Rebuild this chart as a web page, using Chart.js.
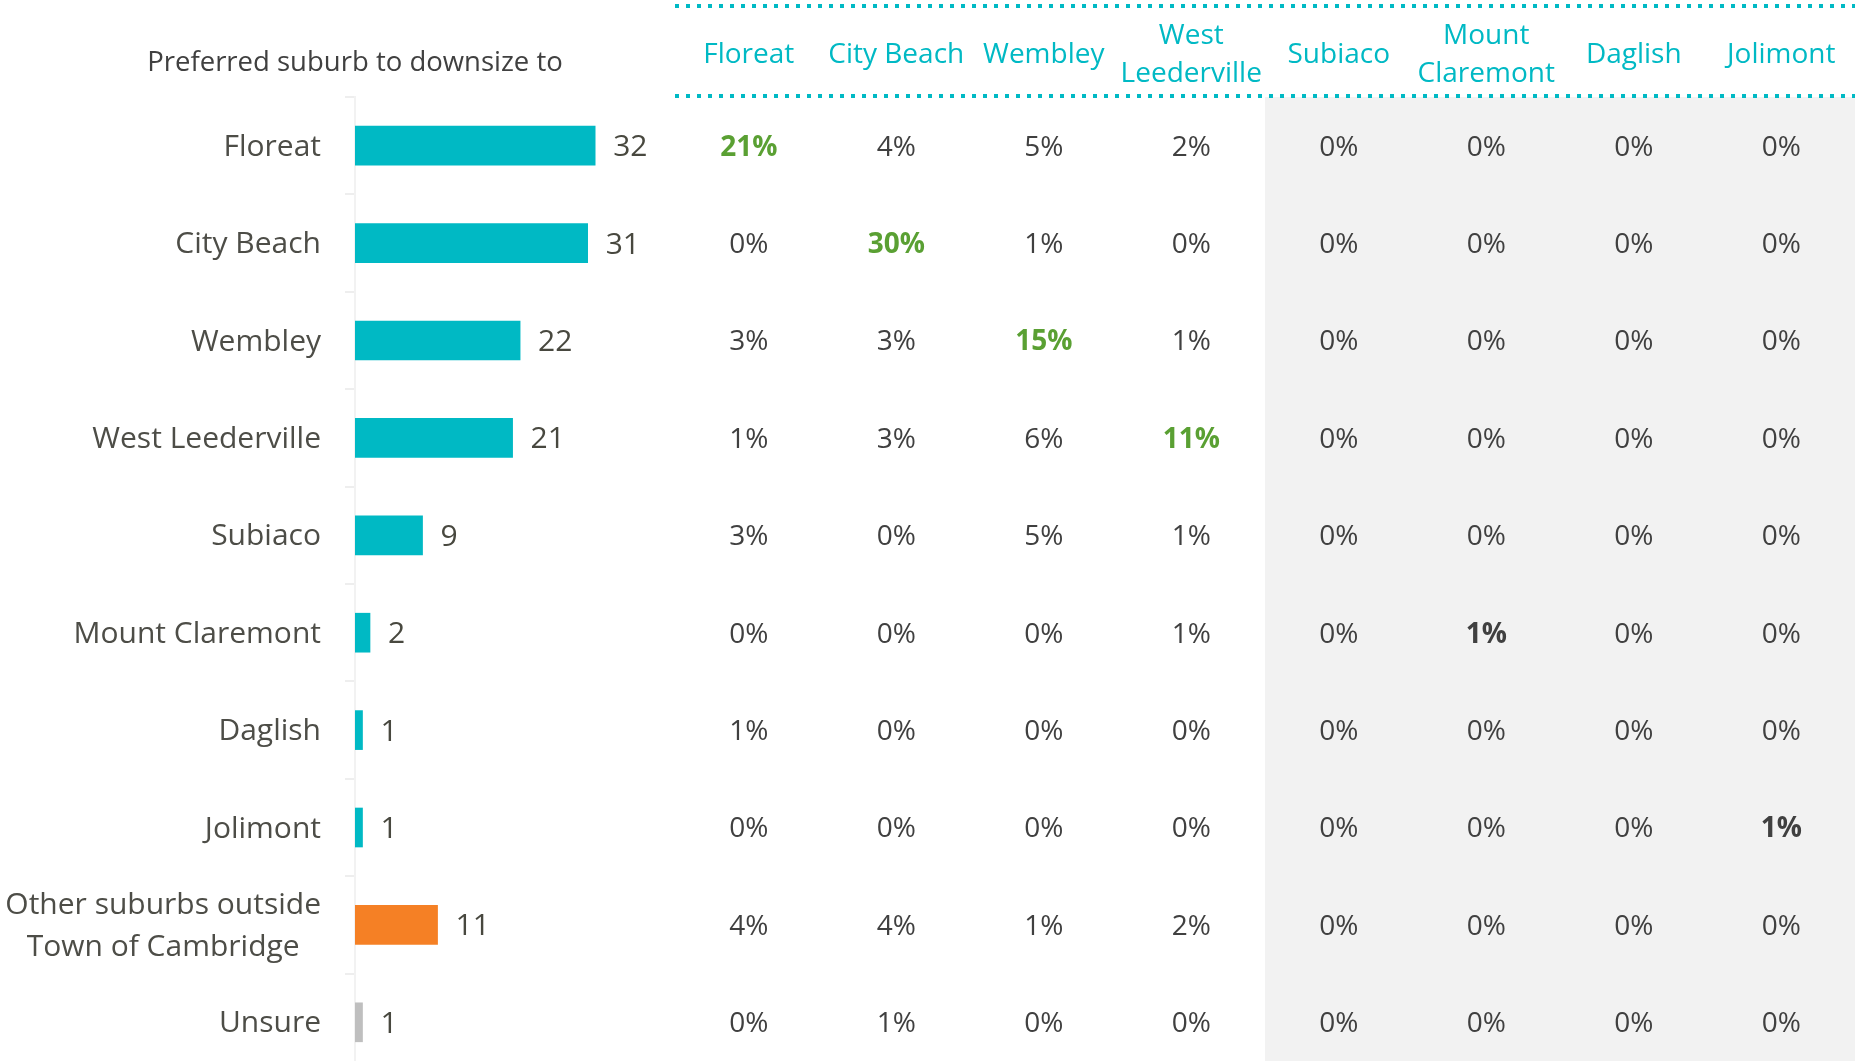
<!DOCTYPE html>
<html>
<head>
<meta charset="utf-8">
<script src="https://cdn.jsdelivr.net/npm/chart.js@4.4.1/dist/chart.umd.min.js"></script>
<style>
  html, body { margin: 0; padding: 0; background: #fff; overflow: hidden; }
  #wrap { position: relative; width: 1855px; height: 1061px; overflow: hidden; }
  #barChart { position: absolute; left: 0; top: 0; }
  #tableChart { position: absolute; left: 675px; top: 0; }
</style>
</head>
<body>
<div id="wrap">
  <canvas id="barChart" width="765" height="1075"></canvas>
  <canvas id="tableChart" width="1180" height="1075"></canvas>
</div>
<script>
// preferred suburb (rows)
const suburbs = [
  'Floreat', 'City Beach', 'Wembley', 'West Leederville', 'Subiaco',
  'Mount Claremont', 'Daglish', 'Jolimont',
  ['Other suburbs outside', 'Town of Cambridge'], 'Unsure'
];
const counts = [32, 31, 22, 21, 9, 2, 1, 1, 11, 1];
const barColors = ['#00B9C4', '#00B9C4', '#00B9C4', '#00B9C4', '#00B9C4',
  '#00B9C4', '#00B9C4', '#00B9C4', '#F58025', '#BFBFBF'];

// current suburb (columns)
const columns = ['Floreat', 'City Beach', 'Wembley', ['West', 'Leederville'],
  'Subiaco', ['Mount', 'Claremont'], 'Daglish', 'Jolimont'];

// % per column, one value per row above
const pctFloreat = [21, 0, 3, 1, 3, 0, 1, 0, 4, 0];
const pctCityBeach = [4, 30, 3, 3, 0, 0, 0, 0, 4, 1];
const pctWembley = [5, 1, 15, 6, 5, 0, 0, 0, 1, 0];
const pctWestLeederville = [2, 0, 1, 11, 1, 1, 0, 0, 2, 0];
const pctSubiaco = [0, 0, 0, 0, 0, 0, 0, 0, 0, 0];
const pctMountClaremont = [0, 0, 0, 0, 0, 1, 0, 0, 0, 0];
const pctDaglish = [0, 0, 0, 0, 0, 0, 0, 0, 0, 0];
const pctJolimont = [0, 0, 0, 0, 0, 0, 0, 1, 0, 0];
const pctColumns = [pctFloreat, pctCityBeach, pctWembley, pctWestLeederville,
  pctSubiaco, pctMountClaremont, pctDaglish, pctJolimont];

const FONT = '"Open Sans", "Noto Sans", sans-serif';
const TEAL = '#00B9C4';
const TEXT = '#404040';
const LABEL = '#4d4d47';

// left axis labels: right aligned, multi-line block centred on itself
const suburbLabels = {
  id: 'suburbLabels',
  afterDraw(chart) {
    const scale = chart.scales.y;
    const ctx = chart.ctx;
    ctx.save();
    ctx.font = '30px ' + FONT;
    ctx.fillStyle = LABEL;
    ctx.textAlign = 'center';
    ctx.textBaseline = 'middle';
    const right = scale.right - 34;
    suburbs.forEach((lab, i) => {
      const lines = Array.isArray(lab) ? lab : [lab];
      const w = Math.max(...lines.map(l => ctx.measureText(l).width));
      const y = scale.getPixelForTick(i) + 1.5;
      const lh = 42.6;
      lines.forEach((l, k) => {
        ctx.fillText(l, right - w / 2, y + (k - (lines.length - 1) / 2) * lh);
      });
    });
    ctx.restore();
  }
};

// count next to each bar
const barValues = {
  id: 'barValues',
  afterDatasetsDraw(chart) {
    const ctx = chart.ctx;
    const meta = chart.getDatasetMeta(0);
    ctx.save();
    ctx.font = '30px ' + FONT;
    ctx.fillStyle = '#48483f';
    ctx.textAlign = 'left';
    ctx.textBaseline = 'middle';
    meta.data.forEach((bar, i) => {
      ctx.fillText(String(counts[i]), bar.x + 18, bar.y + 2);
    });
    ctx.restore();
  }
};

new Chart(document.getElementById('barChart'), {
  type: 'bar',
  data: {
    labels: suburbs,
    datasets: [{
      data: counts,
      backgroundColor: barColors,
      barThickness: 39
    }]
  },
  options: {
    indexAxis: 'y',
    responsive: false,
    animation: false,
    layout: { padding: { right: 55, bottom: 4 } },
    plugins: {
      legend: { display: false },
      tooltip: { enabled: false },
      title: {
        display: true,
        text: 'Preferred suburb to downsize to',
        color: TEXT,
        font: { family: FONT, size: 27.5, weight: 'normal' },
        padding: { top: 47, bottom: 17 }
      }
    },
    scales: {
      x: { display: false, min: 0, max: 47.3 },
      y: {
        ticks: { display: false },
        grid: { color: '#eeeeee', drawOnChartArea: false, tickLength: 10, lineWidth: 2 },
        border: { color: '#f2f2f2', width: 2 },
        afterFit(scale) { scale.width = 355; }
      }
    }
  },
  plugins: [suburbLabels, barValues]
});

// table cells: one dataset per column, positioned by the x / y scales
const tableDatasets = pctColumns.map((vals, c) => ({
  data: vals.map((v, r) => ({ x: c, y: r, v: v })),
  pointRadius: 0
}));

const tableDecor = {
  id: 'tableDecor',
  beforeDraw(chart) {
    const ctx = chart.ctx;
    const xs = chart.scales.x;
    const area = chart.chartArea;
    const band = xs.getPixelForValue(1) - xs.getPixelForValue(0);
    // grey panel behind the remaining suburbs
    ctx.save();
    ctx.fillStyle = '#f2f2f2';
    const gx = xs.getPixelForValue(4) - band / 2;
    ctx.fillRect(gx, area.top, chart.width - gx, chart.height - area.top);
    // dotted rules above / below header
    ctx.strokeStyle = TEAL;
    ctx.lineWidth = 4;
    ctx.setLineDash([4, 7]);
    [6, 96].forEach(y => {
      ctx.beginPath();
      ctx.moveTo(area.left, y);
      ctx.lineTo(area.right, y);
      ctx.stroke();
    });
    ctx.setLineDash([]);
    // column headers
    ctx.font = '28px ' + FONT;
    ctx.fillStyle = TEAL;
    ctx.textAlign = 'center';
    ctx.textBaseline = 'middle';
    columns.forEach((col, c) => {
      const lines = Array.isArray(col) ? col : [col];
      const x = xs.getPixelForValue(c);
      lines.forEach((l, k) => {
        ctx.fillText(l, x, 55.5 + (k - (lines.length - 1) / 2) * 38);
      });
    });
    ctx.restore();
  },
  afterDatasetsDraw(chart) {
    const ctx = chart.ctx;
    ctx.save();
    ctx.textAlign = 'center';
    ctx.textBaseline = 'middle';
    chart.data.datasets.forEach((ds, c) => {
      const meta = chart.getDatasetMeta(c);
      meta.data.forEach((pt, r) => {
        const v = ds.data[r].v;
        const hi = r === c && v > 0;
        ctx.font = (hi ? 'bold ' : '') + '28px ' + FONT;
        ctx.fillStyle = hi ? (c < 4 ? '#5AA033' : '#404040') : TEXT;
        ctx.fillText(v + '%', pt.x, pt.y + 2);
      });
    });
    ctx.restore();
  }
};

new Chart(document.getElementById('tableChart'), {
  type: 'scatter',
  data: { datasets: tableDatasets },
  options: {
    responsive: false,
    animation: false,
    layout: { padding: { top: 97, bottom: 4 } },
    plugins: { legend: { display: false }, tooltip: { enabled: false } },
    scales: {
      x: { type: 'linear', min: -0.5, max: columns.length - 0.5, display: false },
      y: { type: 'linear', min: -0.5, max: suburbs.length - 0.5, reverse: true, display: false }
    }
  },
  plugins: [tableDecor]
});
</script>
</body>
</html>
